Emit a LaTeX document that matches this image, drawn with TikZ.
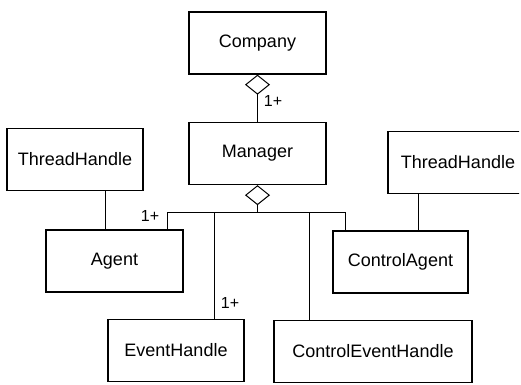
\documentclass[tikz,border=0pt]{standalone}
\usepackage{fontspec}
\setmainfont{Liberation Sans}
\usepackage{tikz}
\usetikzlibrary{arrows.meta,calc,positioning}
\tikzstyle{classbox} = [draw, line width=1.3pt, minimum height=62pt, inner sep=0pt, font=\fontsize{18}{20}\selectfont]
\tikzstyle{link} = [line width=1pt]
\tikzstyle{mult} = [font=\fontsize{16}{18}\selectfont, inner sep=0pt]
\tikzstyle{aggr} = [{Diamond[open, length=20pt, width=25pt]}-]

\begin{document}
\begin{tikzpicture}[x=1pt,y=-1pt]
\useasboundingbox (0,0) rectangle (521,384);
\clip (0,0) rectangle (519,384);
\node[classbox, minimum width=137pt] (company) at (257.5,43) {Company};
\node[classbox, minimum width=137pt] (manager) at (257.5,153.5) {Manager};
\node[classbox, minimum width=136pt] (thl) at (75,159.5) {ThreadHandle};
\node[classbox, minimum width=140pt] (thr) at (458,162.5) {ThreadHandle};
\node[classbox, minimum width=137pt] (agent) at (114.5,261) {Agent};
\node[classbox, minimum width=135pt] (cagent) at (400.5,262) {ControlAgent};
\node[classbox, minimum width=136pt] (ehandle) at (176,350.5) {EventHandle};
\node[classbox, minimum width=198pt] (cehandle) at (373,351.5) {ControlEventHandle};

\draw[link, aggr] (company.south) -- (manager.north);
\node[mult] (m1) at (273,101) {1+};

\coordinate (bus) at (257.5,212);
\draw[link, aggr] (manager.south) -- (bus);
\draw[link] (bus) -| ([xshift=-16]agent.north east);
\draw[link] (bus) -| ([xshift=13]cagent.north west);
\draw[link] ([xshift=-30]ehandle.north east) |- (bus);
\draw[link] ([xshift=36]cehandle.north west) |- (bus);
\node[mult] (m2) at (150,216) {1+};
\node[mult] (m3) at (230,303) {1+};

\draw[link] ([xshift=30]thl.south) -- ([xshift=30]thl.south |- agent.north);
\draw[link] ([xshift=17.5]cagent.north) -- ([xshift=17.5]cagent.north |- thr.south);
\end{tikzpicture}
\end{document}
